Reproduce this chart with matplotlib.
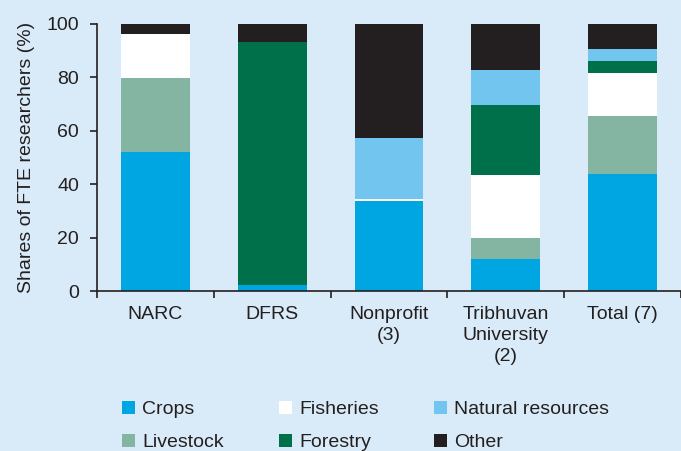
import numpy as np
import matplotlib.pyplot as plt
from matplotlib.patches import Patch

plt.rcParams['font.family'] = ['Liberation Sans', 'DejaVu Sans']

# Datos
categorias = ['NARC', 'DFRS', 'Nonprofit\n(3)', 'Tribhuvan\nUniversity\n(2)', 'Total (7)']
crops = [52.2, 2.2, 33.8, 12.1, 43.7]
livestock = [27.5, 0.0, 0.0, 7.8, 21.8]
fisheries = [16.4, 0.0, 0.8, 23.7, 16.3]
forestry = [0.0, 90.9, 0.0, 26.1, 4.5]
natural = [0.0, 0.0, 22.8, 13.2, 4.2]
other = [3.9, 6.9, 42.6, 17.1, 9.5]

series = ['Crops', 'Livestock', 'Fisheries', 'Forestry', 'Natural resources', 'Other']
valores = [crops, livestock, fisheries, forestry, natural, other]
colores = ['#00A6E2', '#83B5A2', '#FFFFFF', '#00704A', '#72C5EE', '#231F20']

bg = '#D9EBF8'
txt = '#231F20'
W, H = 681, 451
fs = 14

fig = plt.figure(figsize=(W / 100, H / 100), dpi=100, facecolor=bg)
ax = fig.add_axes([97 / W, 160 / H, (W - 97) / W, 267 / H])
ax.set_facecolor(bg)

x = np.arange(len(categorias))
base = np.zeros(len(categorias))
for nombre, vals, c in zip(series, valores, colores):
    vals = np.array(vals)
    ax.bar(x, vals, 0.59, bottom=base, color=c, label=nombre, linewidth=0)
    base += vals

# Ejes
ax.set_xlim(-0.5, -0.5 + (W - 97) / 118.25)
ax.set_ylim(0, 100)
ax.set_yticks(np.arange(0, 101, 20))
ax.set_xticks(np.arange(-0.5, 4.6, 1))
ax.set_xticklabels([])
ax.set_xticks(x, minor=True)
ax.set_xticklabels(categorias, minor=True, fontsize=fs, color=txt, linespacing=1.28)
ax.tick_params(axis='x', which='minor', length=0, pad=11)
ax.tick_params(axis='x', which='major', length=5, width=1.2, color=txt)
ax.tick_params(axis='y', length=5, width=1.2, color=txt, labelsize=fs,
               labelcolor=txt, pad=8)
for s in ['top', 'right']:
    ax.spines[s].set_visible(False)
for s in ['left', 'bottom']:
    ax.spines[s].set_linewidth(1.2)
    ax.spines[s].set_color(txt)
ax.set_ylabel('Shares of FTE researchers (%)', fontsize=fs, color=txt, labelpad=8)

# Leyenda
handles = [Patch(facecolor=c, edgecolor='none', label=n) for n, c in zip(series, colores)]
fig.legend(handles=handles, ncol=3, loc='upper left', bbox_to_anchor=(122 / W, 1 - 401 / H),
           frameon=False, fontsize=fs, labelcolor=txt, borderpad=0, borderaxespad=0,
           handlelength=0.67, handleheight=0.67, handletextpad=0.36,
           columnspacing=2.85, labelspacing=0.78)

fig.savefig('out.png', dpi=100, facecolor=bg)
